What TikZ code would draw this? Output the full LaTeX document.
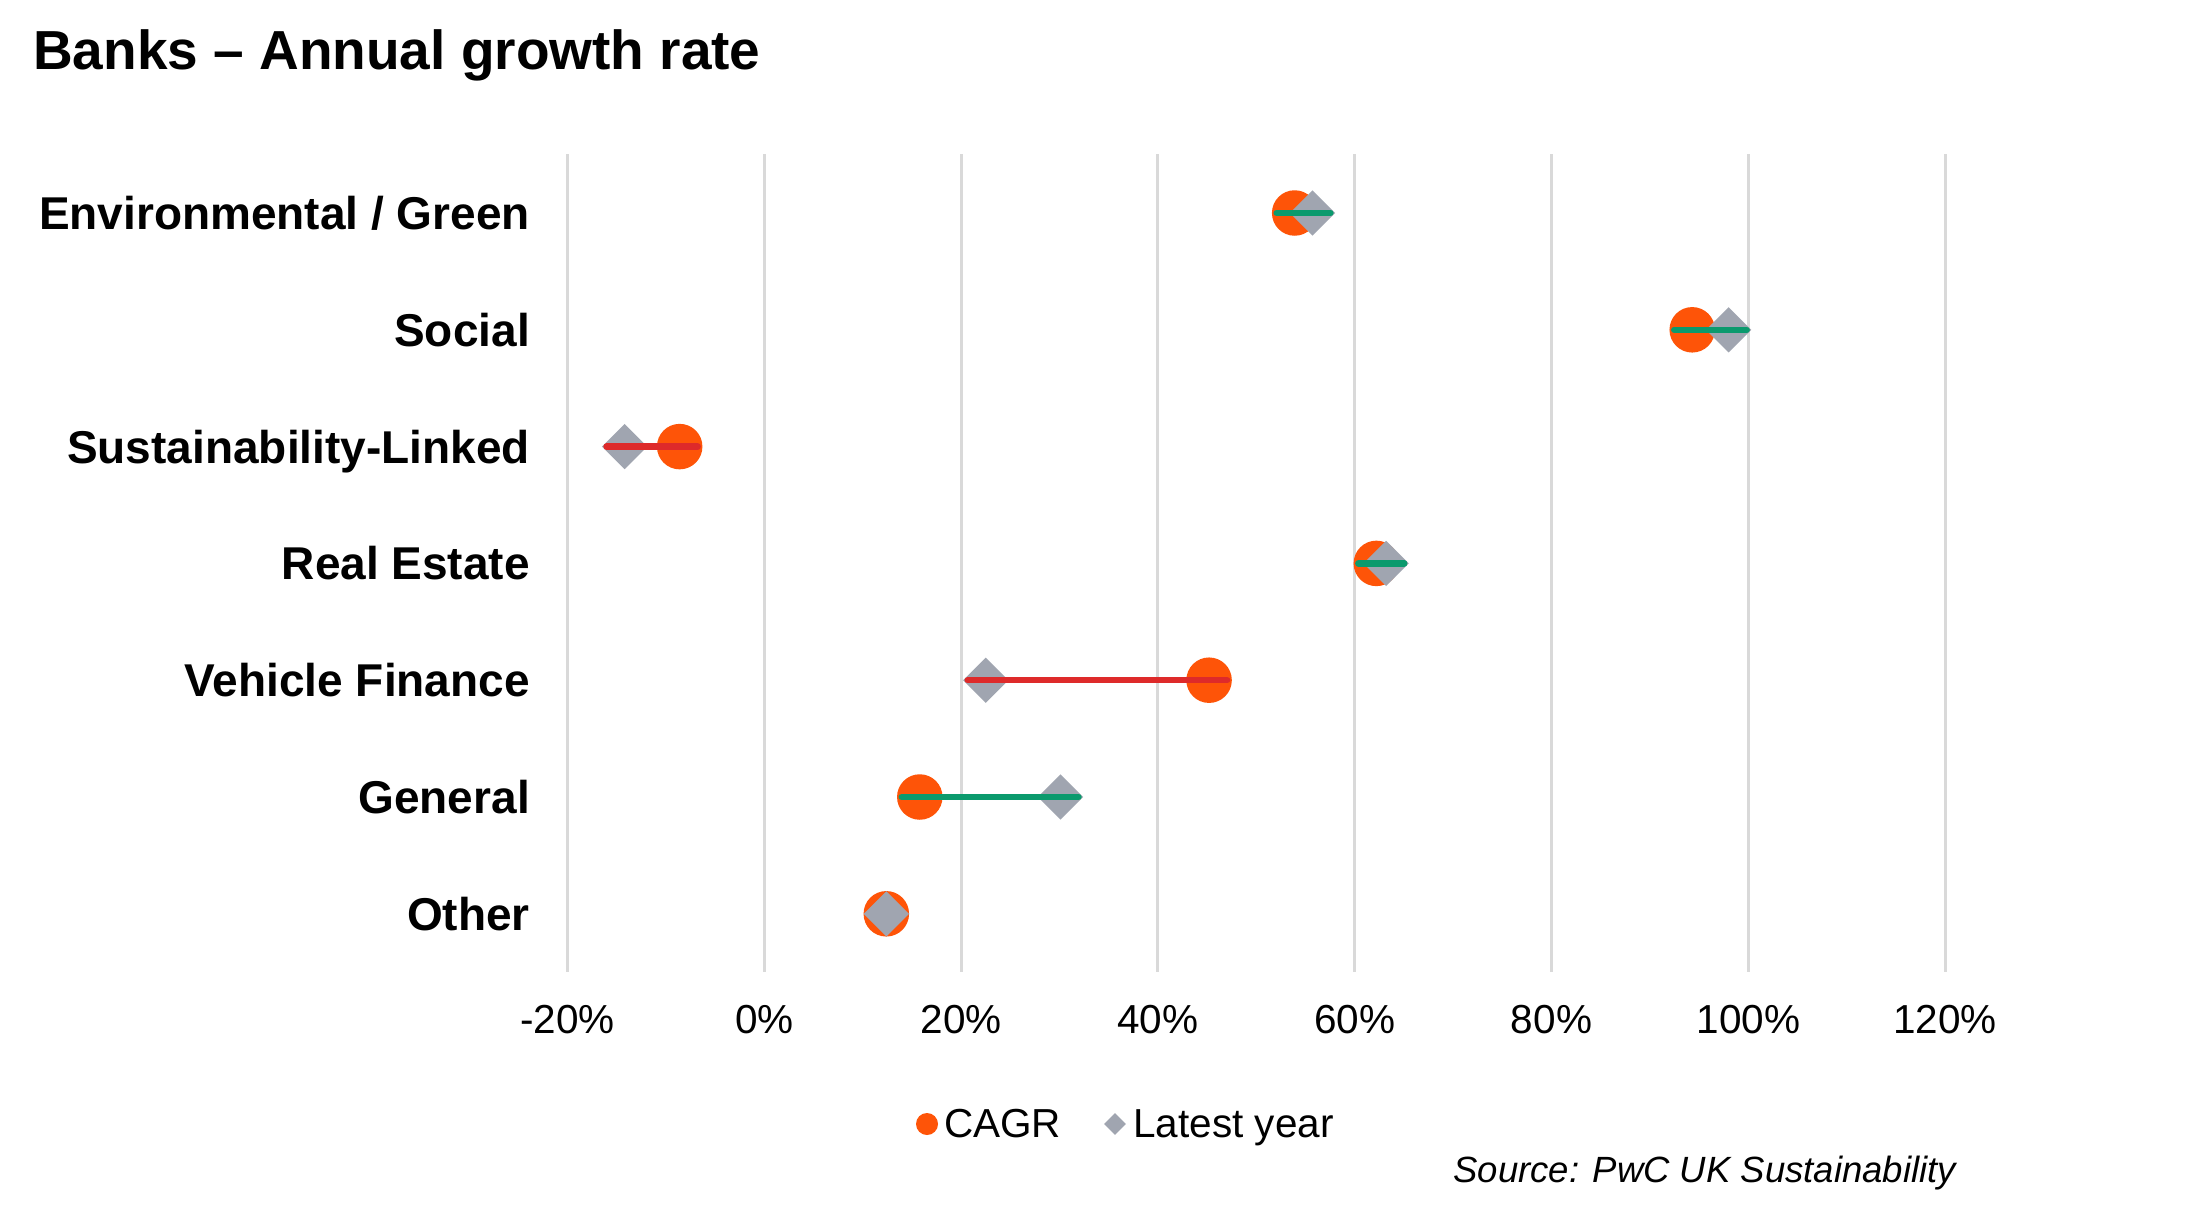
\documentclass[tikz,border=0pt]{standalone}
\usepackage{fontspec}
\setmainfont{Liberation Sans}
\usetikzlibrary{shapes.geometric}
\definecolor{cagr}{RGB}{254,84,8}
\definecolor{latest}{RGB}{160,165,176}
\definecolor{upgreen}{RGB}{11,154,109}
\definecolor{downred}{RGB}{222,42,42}
\definecolor{gridgrey}{RGB}{217,217,217}
\newcommand\envgreenlab{Environmental / Green}
\tikzset{
  cagrdot/.style={circle, fill=cagr, draw=none, inner sep=0pt, minimum size=45.5pt},
  latestdia/.style={diamond, aspect=1, fill=latest, draw=none, inner sep=0pt, minimum size=45.4pt},
  cagrleg/.style={circle, fill=cagr, draw=none, inner sep=0pt, minimum size=22pt},
  latestleg/.style={diamond, aspect=1, fill=latest, draw=none, inner sep=0pt, minimum size=22pt},
  gapline/.style={line width=6.5pt, line cap=round, shorten <=-18pt, shorten >=-18pt},
  upline/.style={gapline, draw=upgreen},
  downline/.style={gapline, draw=downred},
  gridline/.style={draw=gridgrey, line width=3pt},
  rowlabel/.style={anchor=base east, inner sep=0pt, font=\bfseries\fontsize{46}{52}\selectfont},
  ticklabel/.style={anchor=base, inner sep=0pt, font=\fontsize{40.5}{46}\selectfont},
  legtext/.style={anchor=base west, inner sep=0pt, font=\fontsize{40.5}{46}\selectfont},
}
\begin{document}
\begin{tikzpicture}[x=1pt, y=-1pt]
\useasboundingbox (0,0) rectangle (2204,1215);
\fill[white] (0,0) rectangle (2204,1215);
% title
\node[anchor=base west, inner sep=0pt, font=\bfseries\fontsize{55}{62}\selectfont] (title) at (33,70) {Banks – Annual growth rate};
% grid lines and tick labels
\foreach \v [count=\i] in {-20,0,20,40,60,80,100,120} {
  \coordinate (gt\i) at ({764.3+9.84*\v},154);
  \coordinate (gb\i) at ({764.3+9.84*\v},972.3);
  \draw[gridline] (gt\i) -- (gb\i);
  \node[ticklabel] (tick\i) at ({764.3+9.84*\v},1033.3) {\v\%};
}
% rows: label, CAGR, latest
\foreach \lab/\c/\l [count=\i] in {
  \envgreenlab/53.9/55.7,
  Social/94.3/98.0,
  Sustainability-Linked/-8.6/-14.2,
  Real Estate/62.2/63.2,
  Vehicle Finance/45.2/22.5,
  General/15.8/30.1,
  Other/12.4/12.4} {
  \pgfmathsetmacro{\ry}{213+116.8*(\i-1)}
  \node[rowlabel] (lab\i) at (530,\ry+16.5) {\lab};
  \node[cagrdot] (c\i) at ({764.3+9.84*\c},\ry) {};
  \node[latestdia] (d\i) at ({764.3+9.84*\l},\ry) {};
}
% connectors (latest above CAGR: green, below: red)
\draw[upline] (c1.center) -- (d1.center);
\draw[upline] (c2.center) -- (d2.center);
\draw[downline] (d3.center) -- (c3.center);
\draw[upline] (c4.center) -- (d4.center);
\draw[downline] (d5.center) -- (c5.center);
\draw[upline] (c6.center) -- (d6.center);
% legend
\node[cagrleg] (legc) at (927,1124) {};
\node[legtext] (legctext) at (944,1137) {CAGR};
\node[latestleg] (legd) at (1115,1124) {};
\node[legtext] (legdtext) at (1133,1137) {Latest year};
% source
\node[anchor=base east, inner sep=0pt, font=\itshape\fontsize{36.5}{42}\selectfont] (source) at (1956,1182) {Source: PwC UK Sustainability};
\end{tikzpicture}
\end{document}
